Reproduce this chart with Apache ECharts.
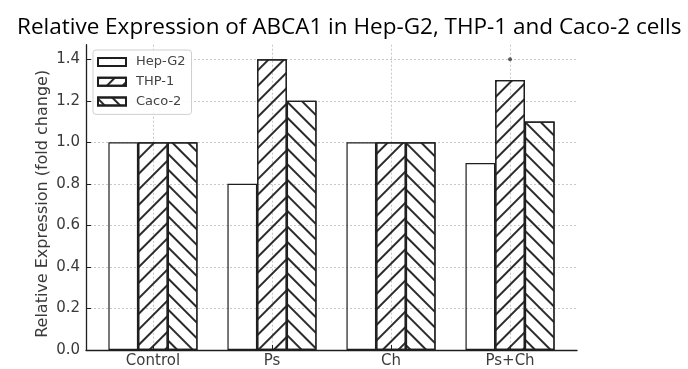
<!DOCTYPE html>
<html>
<head>
<meta charset="utf-8">
<script src="https://cdn.jsdelivr.net/npm/echarts@6/dist/echarts.min.js"></script>
<style>
  html, body { margin: 0; padding: 0; background: #fff; }
  #chart { width: 688px; height: 369px; }
</style>
</head>
<body>
<div id="chart"></div>
<script>
// data
var categories = ['Control', 'Ps', 'Ch', 'Ps+Ch'];
var catPos = [0, 1, 2, 3];
var hepg2 = [1.0, 0.8, 1.0, 0.9];
var thp1 = [1.0, 1.4, 1.0, 1.3];
var caco2 = [1.0, 1.2, 1.0, 1.1];
var sigMarks = [[3, 1.4]];
var yTicks = [0, 0.2, 0.4, 0.6, 0.8, 1.0, 1.2, 1.4];

function pairs(vals) {
    return vals.map(function (v, i) { return [catPos[i], v]; });
}

var textCol = '#3a3a3a';
var lineCol = '#1e1e1e';

function hatch(rot) {
    return {
        symbol: 'rect',
        symbolSize: 1,
        dashArrayX: [1, 0],
        dashArrayY: [1.1, 8.3],
        rotation: rot,
        color: '#2a2a2a',
        backgroundColor: 'rgba(0,0,0,0)'
    };
}

function barSeries(name, vals, decal) {
    var style = {
        color: 'rgba(0,0,0,0)',
        borderColor: lineCol,
        borderWidth: 1.2
    };
    if (decal) style.decal = decal;
    return {
        name: name,
        type: 'bar',
        barWidth: 29.7,
        barGap: '0%',
        data: pairs(vals),
        itemStyle: style,
        emphasis: { disabled: true }
    };
}

var chart = echarts.init(document.getElementById('chart'));

var option = {
    animation: false,
    title: {
        text: 'Relative Expression of ABCA1 in Hep-G2, THP-1 and Caco-2 cells',
        left: 12,
        top: 11,
        textStyle: {
            fontFamily: 'Open Sans',
            fontWeight: 'normal',
            fontSize: 22.5,
            color: '#000'
        }
    },
    legend: {
        data: ['Hep-G2', 'THP-1', 'Caco-2'],
        orient: 'vertical',
        left: 93,
        top: 50,
        padding: [5, 6, 6, 4],
        itemWidth: 28,
        itemHeight: 8,
        itemGap: 5.7,
        icon: 'rect',
        borderColor: '#cfcfcf',
        borderWidth: 1,
        borderRadius: 3,
        backgroundColor: 'rgba(255,255,255,0.85)',
        textStyle: {
            fontFamily: 'DejaVu Sans',
            fontSize: 13,
            lineHeight: 14,
            color: '#444',
            padding: [0, 0, 0, 5]
        }
    },
    grid: {
        left: 86,
        right: 111,
        top: 44.7,
        bottom: 18.5
    },
    xAxis: {
        type: 'value',
        min: -0.5625,
        max: 3.5625,
        axisLine: { show: true, onZero: false, lineStyle: { color: lineCol, width: 1.3 } },
        axisTick: {
            show: true,
            inside: true,
            length: 5,
            customValues: catPos,
            lineStyle: { color: lineCol }
        },
        axisLabel: {
            customValues: catPos,
            margin: 4,
            fontFamily: 'DejaVu Sans',
            fontSize: 15,
            color: textCol,
            formatter: function (v) { return categories[Math.round(v)]; }
        },
        splitLine: {
            show: true,
            lineStyle: { color: '#c8c8c8', type: [2, 2], width: 1 }
        }
    },
    yAxis: {
        type: 'value',
        min: 0,
        max: 1.47,
        name: 'Relative Expression (fold change)',
        nameLocation: 'middle',
        nameGap: 35,
        nameMoveOverlap: false,
        nameTextStyle: {
            fontFamily: 'DejaVu Sans',
            fontSize: 16,
            color: textCol,
            padding: [0, 13, 0, 0]
        },
        axisLine: { show: true, onZero: false, lineStyle: { color: lineCol, width: 1.3 } },
        axisTick: {
            show: true,
            inside: true,
            length: 5,
            customValues: yTicks,
            lineStyle: { color: lineCol }
        },
        axisLabel: {
            customValues: yTicks,
            margin: 6,
            fontFamily: 'DejaVu Sans',
            fontSize: 15,
            color: textCol,
            formatter: function (v) { return v.toFixed(1); }
        },
        splitLine: {
            show: true,
            lineStyle: { color: '#c8c8c8', type: [2, 2], width: 1 }
        }
    },
    series: [
        barSeries('Hep-G2', hepg2, null),
        barSeries('THP-1', thp1, hatch(-Math.PI / 4)),
        barSeries('Caco-2', caco2, hatch(Math.PI / 4)),
        {
            name: 'sig',
            type: 'scatter',
            data: sigMarks,
            symbol: 'circle',
            symbolSize: 4,
            itemStyle: { color: '#333' },
            z: 5
        }
    ]
};

chart.setOption(option);
</script>
</body>
</html>
